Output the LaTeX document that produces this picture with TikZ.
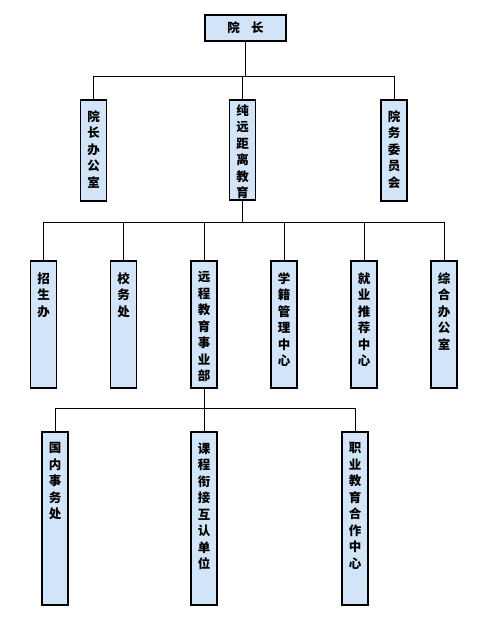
\documentclass[tikz,border=0pt]{standalone}
\usepackage{fontspec}
\newfontfamily\cjk{Noto Sans CJK SC}
\definecolor{boxfill}{HTML}{D2E5F8}
\begin{document}
\begin{tikzpicture}[x=1pt,y=-1pt,
  box/.style={draw=black,line width=1.2pt,fill=boxfill,inner sep=0pt,minimum width=26pt},
  vtxt/.style={anchor=north,inner sep=0pt,align=center,font=\cjk\bfseries\fontsize{12.5}{16.5}\selectfont},
  conn/.style={draw=black,line width=0.9pt}]
\fill[white] (0,0) rectangle (488,624);
\useasboundingbox (0,0) rectangle (488,624);
% top
\node[box,minimum width=81pt,minimum height=26pt] (dean) at (245.5,28) {\cjk\bfseries\fontsize{12.5}{15}\selectfont 院\hspace{0.9em}长};
% level 2
\node[box,minimum height=101pt] (b1) at (93.5,150.5) {};
\node[vtxt] (t1) at ([yshift=-11pt]b1.north) {院\\长\\办\\公\\室};
\node[box,minimum height=100pt] (b2) at (242.5,150) {};
\node[vtxt] (t2) at ([yshift=-5pt]b2.north) {纯\\远\\距\\离\\教\\育};
\node[box,minimum height=101pt] (b3) at (394,150.5) {};
\node[vtxt] (t3) at ([yshift=-11pt]b3.north) {院\\务\\委\\员\\会};
% level 3
\node[box,minimum height=127pt] (c1) at (43.5,324.5) {};
\node[vtxt] (u1) at ([yshift=-12pt]c1.north) {招\\生\\办};
\node[box,minimum height=127pt] (c2) at (123.5,324.5) {};
\node[vtxt] (u2) at ([yshift=-12pt]c2.north) {校\\务\\处};
\node[box,minimum height=127pt] (c3) at (204,324.5) {};
\node[vtxt] (u3) at ([yshift=-11pt]c3.north) {远\\程\\教\\育\\事\\业\\部};
\node[box,minimum height=127pt] (c4) at (284,324.5) {};
\node[vtxt] (u4) at ([yshift=-12pt]c4.north) {学\\籍\\管\\理\\中\\心};
\node[box,minimum height=127pt] (c5) at (364,324.5) {};
\node[vtxt] (u5) at ([yshift=-12pt]c5.north) {就\\业\\推\\荐\\中\\心};
\node[box,minimum height=127pt] (c6) at (444,324.5) {};
\node[vtxt] (u6) at ([yshift=-12pt]c6.north) {综\\合\\办\\公\\室};
% level 4
\node[box,minimum height=173pt] (d1) at (55,518.5) {};
\node[vtxt] (v1) at ([yshift=-11pt]d1.north) {国\\内\\事\\务\\处};
\node[box,minimum height=173pt] (d2) at (204,518.5) {};
\node[vtxt] (v2) at ([yshift=-11pt]d2.north) {课\\程\\衔\\接\\互\\认\\单\\位};
\node[box,minimum height=173pt] (d3) at (355,518.5) {};
\node[vtxt] (v3) at ([yshift=-11pt]d3.north) {职\\业\\教\\育\\合\\作\\中\\心};
% connectors
\coordinate (j1) at (0,76);
\coordinate (j2) at (0,222);
\coordinate (j3) at (0,408);
\draw[conn] (dean.south) -- (dean.south |- j1);
\draw[conn] (b1.north) -- (b1.north |- j1) -- (b3.north |- j1) -- (b3.north);
\draw[conn] (b2.north) -- (b2.north |- j1);
\draw[conn] (b2.south) -- (b2.south |- j2);
\draw[conn] (c1.north) -- (c1.north |- j2) -- (c6.north |- j2) -- (c6.north);
\foreach \n in {c2,c3,c4,c5} \draw[conn] (\n.north) -- (\n.north |- j2);
\draw[conn] (c3.south) -- (c3.south |- j3);
\draw[conn] (d1.north) -- (d1.north |- j3) -- (d3.north |- j3) -- (d3.north);
\draw[conn] (d2.north) -- (d2.north |- j3);
\end{tikzpicture}
\end{document}
